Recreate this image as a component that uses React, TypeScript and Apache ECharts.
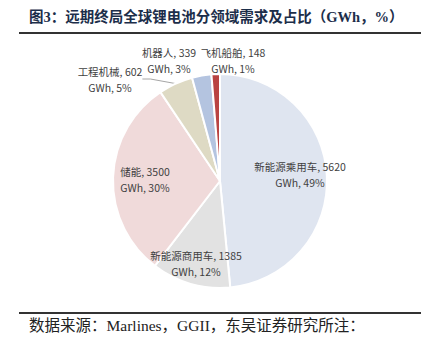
import React, { useEffect, useRef } from "react";
import * as echarts from "echarts";

const categories = ["新能源乘用车", "新能源商用车", "储能", "工程机械", "机器人", "飞机船舶"];
const values = [5620, 1385, 3500, 602, 339, 148];
const colors = ["#DFE5F0", "#E2E2E2", "#F0DADA", "#DEDAC4", "#B4C4E0", "#B94342"];
const titleText = "图3：远期终局全球锂电池分领域需求及占比（GWh，%）";
const sourceText = "数据来源：Marlines，GGII，东吴证券研究所注：";

// label anchor positions (layout only)
const labelPos: [number, number][] = [
  [300, 174],
  [196, 263],
  [145, 179],
  [110, 79],
  [169, 60],
  [233, 60],
];
const showLine = [false, false, false, true, false, false];

export default function App() {
  const ref = useRef<HTMLDivElement>(null);
  useEffect(() => {
    if (!ref.current) return;
    const chart = echarts.init(ref.current, null, { renderer: "svg" });
    chart.setOption({
      animation: false,
      backgroundColor: "#ffffff",
      graphic: [
        {
          type: "text",
          left: 29,
          top: 10,
          style: {
            text: titleText,
            fontSize: 14.5,
            fontWeight: "bold",
            fontFamily: "Liberation Serif, Noto Sans CJK SC",
            fill: "#1C2E4A",
          },
        },
        {
          type: "line",
          shape: { x1: 19, y1: 33, x2: 421, y2: 33 },
          style: { stroke: "#333333", lineWidth: 2 },
        },
        {
          type: "line",
          shape: { x1: 19, y1: 313, x2: 421, y2: 313 },
          style: { stroke: "#333333", lineWidth: 2 },
        },
        {
          type: "text",
          left: 29,
          top: 318,
          style: {
            text: sourceText,
            fontSize: 15.5,
            fontFamily: "Liberation Serif, Noto Sans CJK SC",
            fill: "#222222",
          },
        },
      ],
      series: [
        {
          type: "pie",
          center: [220, 181],
          radius: 107,
          startAngle: 90,
          clockwise: true,
          percentPrecision: 0,
          itemStyle: { borderColor: "#ffffff", borderWidth: 2 },
          label: {
            show: true,
            position: "outside",
            formatter: "{b}, {c}\nGWh, {d}%",
            fontSize: 10.5,
            lineHeight: 16,
            color: "#3F3F3F",
            fontFamily: "Noto Sans CJK SC",
            align: "center",
            overflow: "none",
          },
          labelLine: { show: true, length: 8, length2: 8, lineStyle: { color: "#A6A6A6", width: 1 } },
          labelLayout: (params: any) => {
            const p = labelPos[params.dataIndex];
            return { x: p[0], y: p[1], align: "center", verticalAlign: "middle" };
          },
          data: categories.map((name, i) => ({
            name,
            value: values[i],
            itemStyle: { color: colors[i] },
            labelLine: { show: showLine[i] },
          })),
        },
      ],
    });
    return () => chart.dispose();
  }, []);
  return (
    <div
      ref={ref}
      style={{ position: "fixed", left: 0, top: 0, width: 423, height: 358 }}
    />
  );
}
